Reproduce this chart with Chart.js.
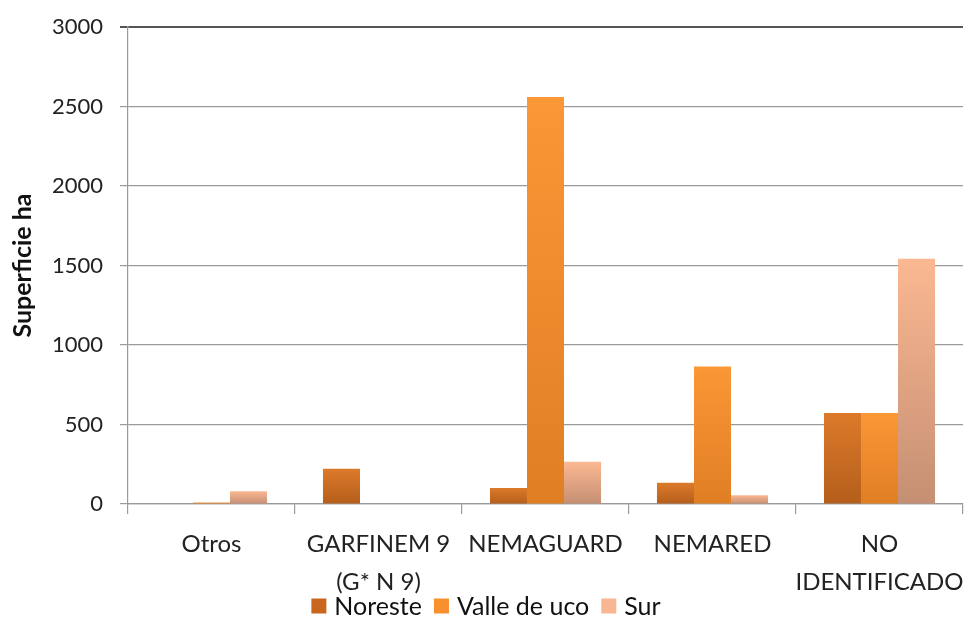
<!DOCTYPE html>
<html>
<head>
<meta charset="utf-8">
<script src="https://cdn.jsdelivr.net/npm/chart.js@4"></script>
<style>
  html, body { margin: 0; padding: 0; background: #fff; }
  #wrap { width: 966px; height: 619px; }
</style>
</head>
<body>
<div id="wrap"><canvas id="grafico"></canvas></div>
<script>
const categorias = ["Otros", ["GARFINEM 9", "(G* N 9)"], "NEMAGUARD", "NEMARED", ["NO", "IDENTIFICADO"]];

const noreste = [0, 222, 100, 133, 572];
const valle_de_uco = [10, 0, 2560, 865, 572];
const sur = [80, 0, 265, 55, 1543];

const y_ticks = [0, 500, 1000, 1500, 2000, 2500, 3000];

const colores = {
    noreste: ["#dc7a2a", "#b45e1b", "#c9661e"],
    valle: ["#fa9736", "#e07e24", "#f7902d"],
    sur: ["#fbb892", "#c58f73", "#f8b693"]
};

const fuente = "Lato, 'Open Sans', sans-serif";

function degradado(col)
{
    return function(ctx){
        const chart = ctx.chart;
        if (!chart.chartArea || !chart.scales.y || ctx.type !== 'data') return col[2];
        const y = chart.scales.y;
        const top = y.getPixelForValue(ctx.parsed.y);
        const base = y.getPixelForValue(0);
        if (!isFinite(top) || base - top < 1) return col[0];
        const g = chart.ctx.createLinearGradient(0, top, 0, base);
        g.addColorStop(0, col[0]);
        g.addColorStop(1, col[1]);
        return g;
    };
}

function dataset(label, data, col)
{
    return {
        label: label,
        data: data,
        backgroundColor: degradado(col),
        legendColor: col[2],
        borderWidth: 0,
        categoryPercentage: 0.665,
        barPercentage: 1.0
    };
}

// leyenda dibujada a mano para controlar su posicion
const leyenda = {
    id: 'leyenda',
    afterDraw: function(chart){
        const c = chart.ctx;
        const box = 15, gap = 8, sep = 12;
        c.save();
        c.font = "25px " + fuente;
        c.textBaseline = 'middle';
        const items = chart.data.datasets.map(d => ({ text: d.label, color: d.legendColor, w: c.measureText(d.label).width }));
        let total = 0;
        items.forEach((it, i) => { total += box + gap + it.w + (i < items.length - 1 ? sep : 0); });
        let x = 486 - total / 2;
        const y = 606;
        items.forEach(it => {
            c.fillStyle = it.color;
            c.fillRect(x, y - box / 2, box, box);
            x += box + gap;
            c.fillStyle = "#111";
            c.fillText(it.text, x, y + 1);
            x += it.w + sep;
        });
        c.restore();
    }
};

const ctx = document.getElementById('grafico');

const chart = new Chart(ctx, {
    type: 'bar',
    data: {
        labels: categorias,
        datasets: [
            dataset("Noreste", noreste, colores.noreste),
            dataset("Valle de uco", valle_de_uco, colores.valle),
            dataset("Sur", sur, colores.sur)
        ]
    },
    plugins: [leyenda],
    options: {
        responsive: true,
        maintainAspectRatio: false,
        animation: false,
        layout: {
            padding: { left: 8, right: 3, top: 27, bottom: 24 }
        },
        scales: {
            y: {
                min: 0,
                max: 3000,
                afterBuildTicks: function(axis){
                    axis.ticks = y_ticks.map(v => ({ value: v }));
                },
                afterFit: function(axis){
                    axis.width = 120;
                    axis.paddingTop = 0;
                    axis.paddingBottom = 0;
                },
                ticks: {
                    color: "#222",
                    padding: 17,
                    callback: function(v){ return String(v); },
                    font: { family: fuente, size: 22 }
                },
                grid: {
                    color: function(c){ return c.tick && c.tick.value === 3000 ? "#555" : "#9a9a9a"; },
                    lineWidth: function(c){ return c.tick && c.tick.value === 3000 ? 2 : 1.2; },
                    tickLength: 8
                },
                border: { color: "#9a9a9a", width: 1.2 },
                title: {
                    display: true,
                    text: "Superficie ha",
                    color: "#111",
                    font: { family: fuente, size: 25, weight: 'bold' },
                    padding: { top: 0, bottom: 0 }
                }
            },
            x: {
                afterFit: function(axis){
                    axis.height = 91;
                    axis.paddingLeft = 0;
                    axis.paddingRight = 0;
                },
                ticks: {
                    color: "#222",
                    padding: 11,
                    maxRotation: 0,
                    autoSkip: false,
                    font: { family: fuente, size: 24, lineHeight: 1.6 }
                },
                grid: {
                    offset: true,
                    drawOnChartArea: false,
                    color: "#9a9a9a",
                    lineWidth: 1.2,
                    tickLength: 10
                },
                border: { color: "#9a9a9a", width: 1.2 }
            }
        },
        plugins: {
            legend: { display: false },
            tooltip: { enabled: false }
        }
    }
});
</script>
</body>
</html>
